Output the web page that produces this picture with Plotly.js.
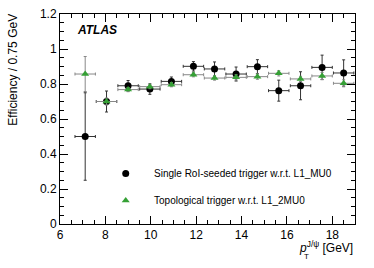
<!DOCTYPE html>
<html><head><meta charset="utf-8">
<script src="https://cdn.plot.ly/plotly-3.0.1.min.js"></script>
<style>html,body{margin:0;padding:0;background:#fff;}#chart{width:374px;height:268px;}</style>
</head><body><div id="chart"></div>
<script>
var ptCenters = [7.11, 8.05, 9.0, 9.96, 10.91, 11.88, 12.81, 13.76, 14.7, 15.64, 16.6, 17.55, 18.5];
var binHalfWidth = [0.45, 0.45, 0.45, 0.45, 0.45, 0.45, 0.45, 0.45, 0.45, 0.45, 0.45, 0.45, 0.45];
var effSingle = [0.50, 0.70, 0.79, 0.771, 0.815, 0.901, 0.886, 0.857, 0.899, 0.762, 0.79, 0.895, 0.863];
var errSingle = [0.25, 0.06, 0.03, 0.03, 0.025, 0.027, 0.04, 0.04, 0.04, 0.06, 0.08, 0.07, 0.075];
var effTopo = [0.857, 0.70, 0.768, 0.785, 0.796, 0.853, 0.834, 0.838, 0.842, 0.861, 0.829, 0.846, 0.804];
var errTopo = [0.10, 0.02, 0.012, 0.012, 0.012, 0.012, 0.012, 0.015, 0.015, 0.015, 0.015, 0.02, 0.02];
var legendNames = ['Single RoI-seeded trigger w.r.t. L1_MU0', 'Topological trigger w.r.t. L1_2MU0'];

var font = 'Liberation Sans, Arial, sans-serif';
var pad = '\u00a0\u00a0\u00a0';
var traces = [
  {x: ptCenters, y: effSingle, type: 'scatter', mode: 'markers', name: pad + legendNames[0], legendgroup: 'a',
   marker: {symbol: 'circle', size: 7, color: '#000'},
   error_y: {type: 'data', array: errSingle, visible: true, color: '#333', thickness: 1, width: 1.5},
   error_x: {type: 'data', array: binHalfWidth, visible: true, color: '#333', thickness: 1, width: 1.5}},
  {x: ptCenters, y: effTopo, type: 'scatter', mode: 'markers', name: pad + legendNames[1], legendgroup: 'b',
   marker: {symbol: 'triangle-up', size: 7, color: '#35a035'},
   error_y: {type: 'data', array: errTopo, visible: true, color: '#888', thickness: 1, width: 1.5},
   error_x: {type: 'data', array: binHalfWidth, visible: true, color: '#888', thickness: 1, width: 1.5}}
];
var axisCommon = {showgrid: false, zeroline: false, showline: true, linecolor: '#000', linewidth: 1, mirror: 'ticks',
  ticks: 'inside', ticklen: 8, tickcolor: '#000', tickfont: {family: font, size: 12, color: '#000'}};
var layout = {
  width: 374, height: 268,
  margin: {l: 60, r: 19, t: 14, b: 44},
  paper_bgcolor: '#fff', plot_bgcolor: '#fff',
  font: {family: font, color: '#000'},
  showlegend: true,
  legend: {x: 0.155, y: 0.176, xanchor: 'left', yanchor: 'middle', bgcolor: 'rgba(0,0,0,0)',
    font: {family: font, size: 10, color: '#000'}, tracegroupgap: 8, itemwidth: 30},
  xaxis: Object.assign({}, axisCommon, {range: [6, 19], dtick: 2, tick0: 6,
    minor: {ticks: 'inside', ticklen: 4, dtick: 0.5, tickcolor: '#000', showgrid: false}}),
  yaxis: Object.assign({}, axisCommon, {range: [0, 1.2], dtick: 0.2, tick0: 0,
    minor: {ticks: 'inside', ticklen: 4, dtick: 0.05, tickcolor: '#000', showgrid: false}}),
  annotations: [
    {text: '<b><i>ATLAS</i></b>', xref: 'paper', yref: 'paper', x: 0.05, y: 0.925, xanchor: 'left', yanchor: 'middle',
     showarrow: false, font: {family: font, size: 12, color: '#000'}},
    {text: 'Efficiency / 0.75 GeV', textangle: -90, xref: 'paper', yref: 'paper', x: -0.16, y: 1.01,
     xanchor: 'center', yanchor: 'top', showarrow: false, font: {family: font, size: 12, color: '#000'}},
    {text: '<i>p</i><sup>J/ψ</sup> [GeV]', xref: 'paper', yref: 'paper', x: 1, y: -0.06, xanchor: 'right', yanchor: 'top',
     showarrow: false, font: {family: font, size: 12, color: '#000'}},
    {text: 'T', xref: 'paper', yref: 'paper', x: 0.82, y: -0.125, xanchor: 'left', yanchor: 'top',
     showarrow: false, font: {family: font, size: 8, color: '#000'}}
  ]
};
Plotly.newPlot('chart', traces, layout, {displayModeBar: false, staticPlot: true});
</script></body></html>
